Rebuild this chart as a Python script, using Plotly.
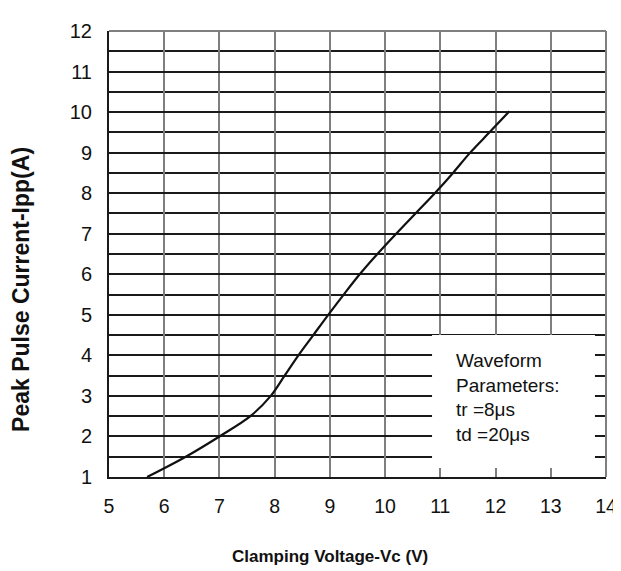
import plotly.graph_objects as go

# Curve: Clamping voltage (V) vs peak pulse current (A)
vc = [5.69, 6.39, 7.0, 7.56, 7.93, 8.18, 8.43, 8.7, 8.97, 9.25, 9.54, 9.86,
      10.2, 10.55, 10.9, 11.23, 11.54, 11.89, 12.25]
ipp = [1.0, 1.5, 2.0, 2.5, 3.0, 3.5, 4.0, 4.5, 5.0, 5.5, 6.0, 6.5,
       7.0, 7.5, 8.0, 8.5, 9.0, 9.5, 10.02]

x_ticks = [5, 6, 7, 8, 9, 10, 11, 12, 13, 14]
y_ticks = [1, 2, 3, 4, 5, 6, 7, 8, 9, 10, 11, 12]

box_lines = ["Waveform", "Parameters:", "tr =8\u03bcs", "td =20\u03bcs"]

FONT = "Arial, Liberation Sans, sans-serif"

fig = go.Figure()
fig.add_trace(go.Scatter(
    x=vc, y=ipp, mode="lines",
    line=dict(color="#111111", width=2.2, shape="spline", smoothing=1.0),
    hoverinfo="skip", showlegend=False,
))

# page body adds an 8px offset; margins compensate for it
fig.update_layout(
    width=621, height=571,
    margin=dict(l=101, r=19, t=13, b=102),
    paper_bgcolor="white", plot_bgcolor="white",
    showlegend=False,
    xaxis=dict(
        range=[5, 14], tickvals=x_ticks, ticktext=[str(v) for v in x_ticks],
        showgrid=True, gridcolor="#7f7f7f", gridwidth=2,
        showline=True, linecolor="#1a1a1a", linewidth=2,
        zeroline=False, ticks="", ticklabelstandoff=11,
        tickfont=dict(family=FONT, size=19.5, color="#111111"),
    ),
    yaxis=dict(
        range=[1, 12], tickvals=y_ticks, ticktext=[str(v) for v in y_ticks],
        showgrid=True, gridcolor="#1a1a1a", gridwidth=1.5,
        minor=dict(dtick=0.5, showgrid=True, gridcolor="#1a1a1a", gridwidth=1.5),
        showline=True, linecolor="#1a1a1a", linewidth=2,
        zeroline=False, ticks="", ticklabelstandoff=11,
        tickfont=dict(family=FONT, size=20, color="#111111"),
    ),
)

# white panel behind the waveform-parameter text
fig.add_shape(type="rect", xref="x", yref="y", x0=10.85, x1=13.8, y0=1.22, y1=4.5,
              fillcolor="white", line=dict(width=0), layer="above")
# top and right borders in grey
fig.add_shape(type="line", xref="paper", yref="paper", x0=0, x1=1, y0=1, y1=1,
              line=dict(color="#7f7f7f", width=2), layer="above")
fig.add_shape(type="line", xref="paper", yref="paper", x0=1, x1=1, y0=0, y1=1,
              line=dict(color="#7f7f7f", width=2), layer="above")

fig.add_annotation(
    x=11.245, y=4.18, xref="x", yref="y", xanchor="left", yanchor="top",
    text="<br>".join(box_lines), showarrow=False, align="left",
    font=dict(family=FONT, size=19, color="#111111"),
)

fig.add_annotation(
    x=0.445, y=-0.178, xref="paper", yref="paper", xanchor="center", yanchor="middle",
    text="<b>Clamping Voltage-Vc (V)</b>", showarrow=False,
    font=dict(family=FONT, size=17, color="#111111"),
)
fig.add_annotation(
    x=-0.1756, y=0.421, xref="paper", yref="paper", xanchor="center", yanchor="middle",
    text="<b>Peak Pulse Current-Ipp(A)</b>", showarrow=False, textangle=-90,
    font=dict(family=FONT, size=23, color="#111111"),
)

fig.write_html("out.html")
